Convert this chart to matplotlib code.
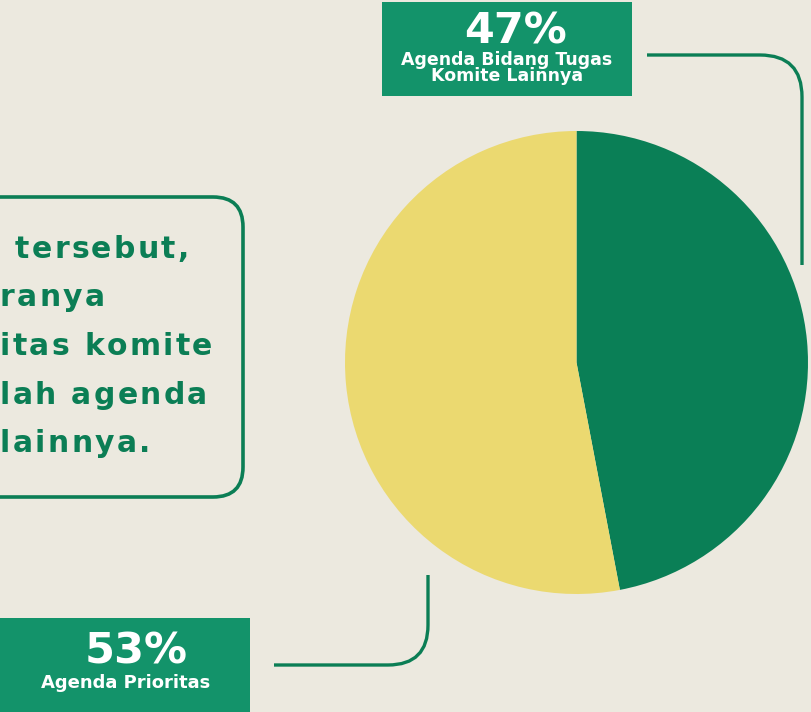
import matplotlib.pyplot as plt
from matplotlib.patches import FancyBboxPatch, Rectangle, PathPatch
from matplotlib.path import Path
from matplotlib.textpath import TextPath
from matplotlib.font_manager import FontProperties

# data
labels = ["Agenda Bidang Tugas\nKomite Lainnya", "Agenda Prioritas"]
shares = [47, 53]
pie_colors = ["#0A7F56", "#EBD970"]
note_lines = ["tersebut,", "ranya", "itas komite", "lah agenda", "lainnya."]

BG = "#ECE9DF"
DARK = "#0B7E55"
BOX = "#13936A"
W, H = 811, 712

fig = plt.figure(figsize=(W / 100, H / 100), dpi=100, facecolor=BG)
ax = fig.add_axes([0, 0, 1, 1])
ax.set_facecolor(BG)


def yy(y):
    # image row (top-down) -> axes y (bottom-up)
    return H - y


def advance(ch, fp, px):
    # glyph advance = ink width of "|ch|" minus ink width of "||"
    a = TextPath((0, 0), "|" + ch + "|", prop=fp, size=px).get_extents().width
    b = TextPath((0, 0), "||", prop=fp, size=px).get_extents().width
    return a - b


def tracked(x, y, s, size, spacing, **kw):
    # draw text char by char so letters get extra spacing
    fp = FontProperties(family="DejaVu Sans", weight="bold")
    px = size * 100 / 72.0
    for ch in s:
        ax.text(x, y, ch, fontproperties=fp, fontsize=size, ha="left",
                va="baseline", **kw)
        x += advance(ch, fp, px) + spacing


ax.pie(shares, colors=pie_colors, startangle=90, counterclock=False,
       center=(576.5, yy(362.5)), radius=231.5, frame=True,
       wedgeprops=dict(linewidth=0))

# note box on the left, cut by the figure edge
ax.add_patch(FancyBboxPatch((-60, yy(497)), 303, 300,
                            boxstyle="round,pad=0,rounding_size=30",
                            fill=False, edgecolor=DARK, linewidth=2.6))
note_x = [15, 0, 0, 0, 0]
for i, line in enumerate(note_lines):
    tracked(note_x[i], yy(258 + i * 48.5), line, 21.5, 2.3, color=DARK)

# label boxes
ax.add_patch(Rectangle((382, yy(96)), 250, 94, facecolor=BOX, edgecolor="none"))
ax.add_patch(Rectangle((0, yy(712)), 250, 94, facecolor=BOX, edgecolor="none"))

ax.text(516, yy(44), f"{shares[0]}%", color="white", fontsize=31,
        fontweight="heavy", ha="center", va="baseline")
ax.text(507, yy(81), labels[0], color="white", fontsize=12.5,
        fontweight="bold", ha="center", va="baseline", multialignment="center",
        linespacing=0.88)

ax.text(136, yy(664), f"{shares[1]}%", color="white", fontsize=31,
        fontweight="heavy", ha="center", va="baseline")
ax.text(126, yy(688), labels[1], color="white", fontsize=13,
        fontweight="bold", ha="center", va="baseline")

# connector lines with rounded corners
top = Path([(647, yy(55)), (760, yy(55)), (802, yy(55)), (802, yy(97)), (802, yy(265))],
           [Path.MOVETO, Path.LINETO, Path.CURVE3, Path.CURVE3, Path.LINETO])
bot = Path([(428, yy(575)), (428, yy(625)), (428, yy(665)), (388, yy(665)), (274, yy(665))],
           [Path.MOVETO, Path.LINETO, Path.CURVE3, Path.CURVE3, Path.LINETO])
for p in (top, bot):
    ax.add_patch(PathPatch(p, fill=False, edgecolor=DARK, linewidth=2.4,
                           capstyle="butt"))

ax.set_xlim(0, W)
ax.set_ylim(0, H)
ax.set_aspect("auto")
ax.axis("off")

fig.savefig("out.png", dpi=100, facecolor=BG)
